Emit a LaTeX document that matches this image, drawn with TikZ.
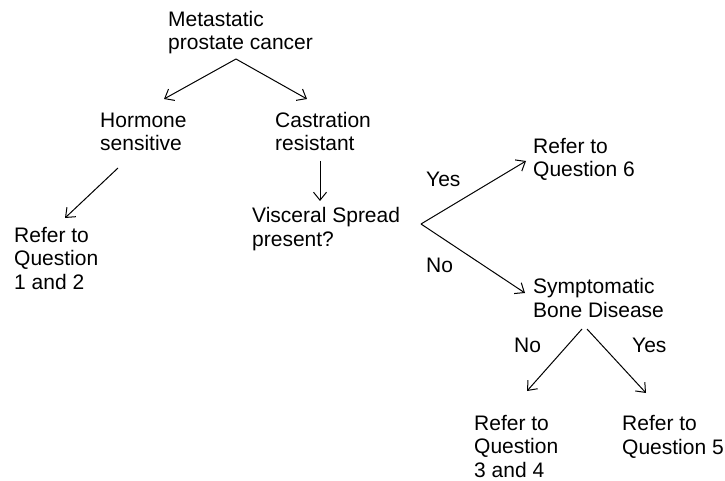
\documentclass[tikz,border=0pt]{standalone}
\usepackage{fontspec}
\setmainfont{Liberation Sans}
\usetikzlibrary{arrows.meta}
\begin{document}
\begin{tikzpicture}[x=1pt,y=-1pt,
  lbl/.style={anchor=base west,inner sep=0pt,align=left,
    font=\fontsize{21}{23.5}\selectfont},
  link/.style={draw,line width=1pt,-{Straight Barb[length=8pt,width=13pt]}}]
\useasboundingbox (0,0) rectangle (725,481);

% text blocks (placed by the baseline of their last line)
\node[lbl] (meta) at (168,50) {Metastatic\\prostate cancer};
\node[lbl] (horm) at (100,151) {Hormone\\sensitive};
\node[lbl] (cast) at (275,151) {Castration\\resistant};
\node[lbl] (q12) at (14,289) {Refer to\\Question\\1 and 2};
\node[lbl] (visc) at (252,246) {Visceral Spread\\present?};
\node[lbl] (q6) at (533,177) {Refer to\\Question 6};
\node[lbl] (bone) at (533,317) {Symptomatic\\Bone Disease};
\node[lbl] (q34) at (474,477) {Refer to\\Question\\3 and 4};
\node[lbl] (q5) at (622,454) {Refer to\\Question 5};

% branch labels
\node[lbl] (yes1) at (426,187) {Yes};
\node[lbl] (no1) at (426,272) {No};
\node[lbl] (no2) at (514,352) {No};
\node[lbl] (yes2) at (632,352) {Yes};

% connector end points
\coordinate (m-out) at (236,59);
\coordinate (h-in) at (164,99);
\coordinate (c-in) at (307,99);
\coordinate (h-out) at (118,168);
\coordinate (q12-in) at (65,218);
\coordinate (c-out) at (320,161);
\coordinate (v-in) at (320,201);
\coordinate (v-out) at (421,224);
\coordinate (q6-in) at (526,161);
\coordinate (b-in) at (525,293);
\coordinate (b-outl) at (582,329);
\coordinate (b-outr) at (587,329);
\coordinate (q34-in) at (527,391);
\coordinate (q5-in) at (646,393);

\path[link] (m-out) -- (h-in);
\path[link] (m-out) -- (c-in);
\path[link] (h-out) -- (q12-in);
\path[link] (c-out) -- (v-in);
\path[link] (v-out) -- (q6-in);
\path[link] (v-out) -- (b-in);
\path[link] (b-outl) -- (q34-in);
\path[link] (b-outr) -- (q5-in);
\end{tikzpicture}
\end{document}
